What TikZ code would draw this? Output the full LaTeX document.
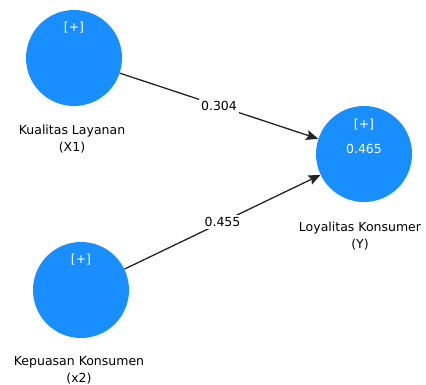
\documentclass[tikz,border=0pt]{standalone}
\usepackage{fontspec}
\setmainfont{DejaVu Sans}
\usetikzlibrary{arrows.meta}
\definecolor{lvblue}{RGB}{24,142,255}
\definecolor{edgegray}{RGB}{35,35,35}
\begin{document}
\begin{tikzpicture}[x=1pt,y=-1pt,
  latent/.style={circle,fill=lvblue,minimum size=96pt,inner sep=0pt},
  intext/.style={text=white,font=\fontsize{12.5}{14}\selectfont,inner sep=0pt},
  lbl/.style={font=\fontsize{12.5}{17}\selectfont,align=center,inner sep=0pt},
  path/.style={draw=edgegray,line width=1.3pt,-{Stealth[length=12pt,width=10pt,inset=2pt]}},
  coef/.style={fill=white,font=\fontsize{12.5}{14}\selectfont,inner sep=2pt}]
\useasboundingbox (0,0) rectangle (426,385);
\node[latent] (x1) at (74,58) {};
\node[latent] (y) at (364,154) {};
\node[latent] (x2) at (81,290) {};
\node[intext] (x1p) at (74,28) {[+]};
\node[intext] (yp) at (364,125) {[+]};
\node[intext] (yv) at (364,149) {0.465};
\node[intext] (x2p) at (81,260) {[+]};
\node[lbl] (x1l) at (72,139) {Kualitas Layanan\\(X1)};
\node[lbl] (yl) at (360,236) {Loyalitas Konsumer\\(Y)};
\node[lbl] (x2l) at (79,370) {Kepuasan Konsumen\\(x2)};
\draw[path] (x1) -- node[coef] (c1) {0.304} (y);
\draw[path] (x2) -- node[coef] (c2) {0.455} (y);
\end{tikzpicture}
\end{document}
